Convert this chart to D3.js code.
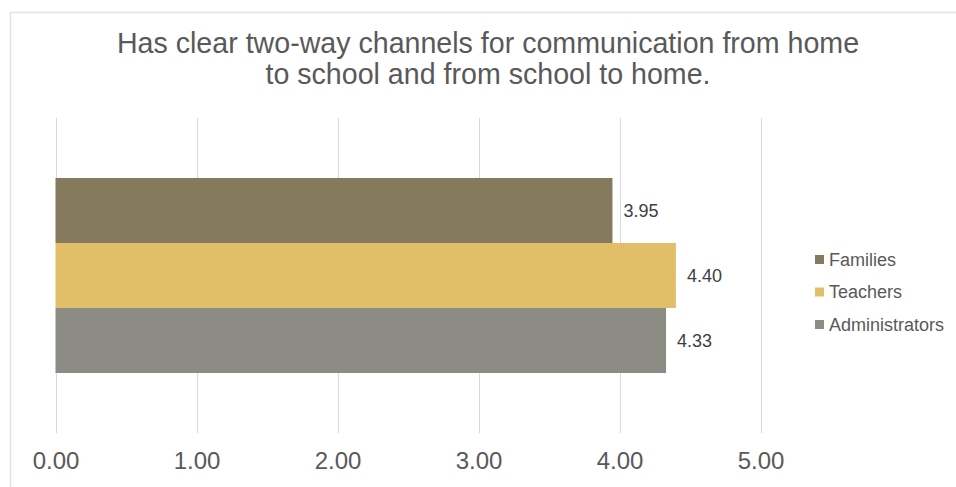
<!DOCTYPE html>
<html><head><meta charset="utf-8">
<script src="https://cdn.jsdelivr.net/npm/d3@7"></script>
<style>body{margin:0;background:#fff;}svg{display:block;}</style>
</head><body>
<svg id="c" width="956" height="487"></svg>
<script>
const titleLines = ["Has clear two-way channels for communication from home", "to school and from school to home."];
const series = ["Families", "Teachers", "Administrators"];
const values = [3.95, 4.40, 4.33];
const colors = ["#867a5e", "#e3be69", "#8c8b84"];
const ticks = [0, 1, 2, 3, 4, 5];

(function () {
const svg = d3.select("#c");
const font = "'Liberation Sans', Arial, sans-serif";
const txt = "#595959";

// frame
svg.append("path").attr("d", "M10.5,487 V12.5 H956").attr("fill", "none")
  .attr("stroke", "#e3e3e3").attr("stroke-width", 1.5);

// title
svg.append("g").selectAll("text").data(titleLines).join("text")
  .attr("x", 488).attr("y", (d, i) => 53 + i * 31)
  .attr("text-anchor", "middle").attr("font-family", font).attr("font-size", 28.6)
  .attr("fill", txt).text(d => d);

const x = d3.scaleLinear().domain([0, 5]).range([55.5, 760.5]);
const plotTop = 118, plotBottom = 433;
const y = d3.scaleBand().domain(series).range([178, 373]).paddingInner(0).paddingOuter(0);

// gridlines
svg.append("g").selectAll("line").data(ticks).join("line")
  .attr("x1", d => Math.round(x(d)) + 0.5).attr("x2", d => Math.round(x(d)) + 0.5)
  .attr("y1", plotTop).attr("y2", plotBottom).attr("stroke", "#d9d9d9").attr("stroke-width", 1);

// axis labels
const ax = svg.append("g").attr("transform", `translate(0,${plotBottom})`)
  .call(d3.axisBottom(x).tickValues(ticks).tickFormat(d3.format(".2f")).tickSize(0).tickPadding(19));
ax.select(".domain").remove();
ax.selectAll("text").attr("font-family", font).attr("font-size", 24).attr("fill", txt);

// bars
svg.append("g").selectAll("rect").data(series).join("rect")
  .attr("x", x(0)).attr("y", d => y(d)).attr("height", y.bandwidth())
  .attr("width", (d, i) => x(values[i]) - x(0)).attr("fill", (d, i) => colors[i]);

// value labels
svg.append("g").selectAll("text").data(series).join("text")
  .attr("x", (d, i) => x(values[i]) + 11).attr("y", d => y(d) + y.bandwidth() / 2 + 6)
  .attr("font-family", font).attr("font-size", 18).attr("fill", "#404040")
  .text((d, i) => values[i].toFixed(2));

// legend
const lg = svg.append("g").selectAll("g").data(series).join("g")
  .attr("transform", (d, i) => `translate(815,${259 + i * 32.5})`);
lg.append("rect").attr("x", 0).attr("y", -4).attr("width", 9).attr("height", 9)
  .attr("fill", (d, i) => colors[i]);
lg.append("text").attr("x", 14).attr("y", 6.5).attr("font-family", font).attr("font-size", 18)
  .attr("fill", txt).text(d => d);
})();
</script>
</body></html>
